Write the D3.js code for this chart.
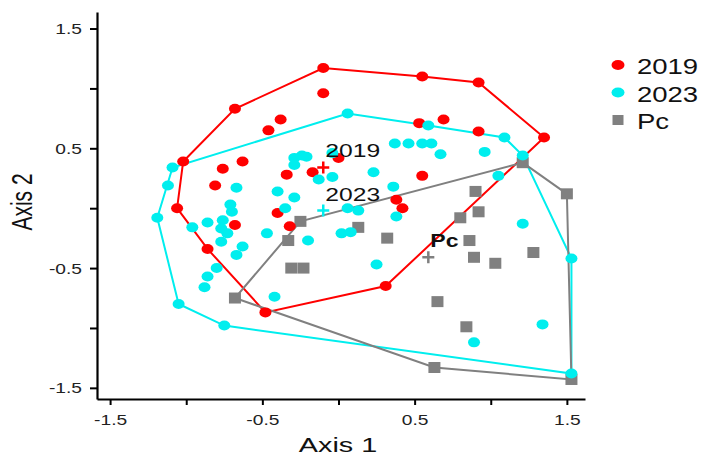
<!DOCTYPE html>
<html>
<head>
<meta charset="utf-8">
<script src="https://cdn.jsdelivr.net/npm/d3@7"></script>
<style>
body { margin: 0; background: #fff; }
text { font-family: Arial, "Liberation Sans", sans-serif; }
</style>
</head>
<body>
<script>
// ordination scores
var pts2019 = [[-0.10,1.17],[0.55,1.10],[0.92,1.05],[1.35,0.59],[0.31,-0.65],[-0.48,-0.87],
  [-0.86,-0.34],[-1.06,0.00],[-1.02,0.39],[-0.68,0.83],[-0.10,0.96],[-0.38,0.74],[-0.46,0.65],
  [-0.63,0.39],[-0.76,0.33],[-0.81,0.19],[-0.34,0.28],[-0.17,0.30],[0.00,0.42],[-0.40,-0.04],
  [-0.32,-0.15],[-0.68,-0.14],[0.53,0.71],[0.69,0.74],[0.92,0.64],[0.55,0.27],[0.38,0.07],[0.42,0.00]];
var pts2023 = [[0.06,0.79],[0.59,0.69],[1.09,0.59],[1.21,0.44],[1.53,-0.42],[1.53,-1.38],
  [-0.75,-0.98],[-1.05,-0.80],[-1.19,-0.08],[-1.09,0.34],[-1.12,0.19],[-0.67,0.17],[-0.71,0.03],
  [-0.70,-0.03],[-0.86,-0.12],[-0.96,-0.16],[-0.76,-0.10],[-0.77,-0.17],[-0.73,-0.21],[-0.77,-0.28],
  [-0.63,-0.32],[-0.67,-0.39],[-0.80,-0.50],[-0.86,-0.57],[-0.88,-0.66],[-0.29,0.42],[-0.24,0.44],
  [-0.21,0.43],[-0.29,0.36],[-0.04,0.46],[-0.13,0.24],[-0.04,0.26],[0.23,0.30],[-0.40,0.14],
  [-0.29,0.09],[-0.35,0.00],[0.37,0.54],[0.46,0.54],[0.55,0.54],[0.61,0.54],[0.67,0.45],[0.96,0.47],
  [1.05,0.27],[0.36,0.18],[0.38,-0.07],[0.06,0.00],[0.13,-0.02],[-0.47,-0.21],[-0.20,-0.27],
  [0.02,-0.21],[0.08,-0.20],[1.21,-0.13],[0.25,-0.47],[-0.42,-0.74],[1.34,-0.97],[0.89,-1.12]];
var ptsPc = [[-0.68,-0.75],[-0.25,-0.11],[1.21,0.38],[1.50,0.12],[1.53,-1.43],[0.63,-1.33],
  [-0.33,-0.27],[-0.31,-0.50],[-0.23,-0.50],[0.13,-0.16],[0.32,-0.25],[0.90,0.14],[0.92,-0.03],
  [0.80,-0.08],[0.86,-0.27],[0.89,-0.41],[1.03,-0.46],[1.28,-0.37],[0.65,-0.78],[0.84,-0.99]];
var groupNames = ["2019", "2023", "Pc"];
var centroids = [[-0.10,0.34],[-0.10,-0.02],[0.59,-0.41]];
var tickVals = [-1.5,-1,-0.5,0,0.5,1,1.5];
var tickLabels = ["-1.5","","-0.5","","0.5","","1.5"];

var colors = ["#ff0000", "#00eeee", "#808080"];
var groups = [pts2019, pts2023, ptsPc];
var sx = 1.37; // the source image is stretched horizontally

var svg = d3.select("body").append("svg").attr("width", 704).attr("height", 457);

var x = d3.scaleLinear().domain([-1.586, 1.619]).range([97, 585]);
var y = d3.scaleLinear().domain([-1.593, 1.638]).range([399, 12]);

// axes
var xAxis = svg.append("g").attr("transform", "translate(0,399)")
  .call(d3.axisBottom(x).tickValues(tickVals).tickSize(6).tickSizeOuter(0)
    .tickFormat(function(d, i) { return tickLabels[i]; }));
var yAxis = svg.append("g").attr("transform", "translate(97,0)")
  .call(d3.axisLeft(y).tickValues(tickVals).tickSize(7).tickSizeOuter(0)
    .tickFormat(function(d, i) { return tickLabels[i]; }));

[xAxis, yAxis].forEach(function(a) {
  a.select(".domain").attr("stroke", "#000").attr("stroke-width", 2.2);
  a.selectAll(".tick line").attr("stroke", "#000").attr("stroke-width", 2);
  a.selectAll("text").attr("font-size", 14).attr("fill", "#222")
    .attr("font-family", "Arial, 'Liberation Sans', sans-serif");
});
xAxis.selectAll("text").attr("y", 16).attr("transform", "scale(" + sx + ",1)");
yAxis.selectAll("text").attr("x", -15 / sx).attr("dy", "0.36em")
  .attr("transform", "scale(" + sx + ",1)");

// axis titles
svg.append("text").attr("transform", "translate(338,452) scale(" + sx + ",1)")
  .attr("text-anchor", "middle").attr("font-size", 21).attr("fill", "#111").text("Axis 1");
svg.append("text").attr("transform", "translate(32,202) scale(" + sx + ",1) rotate(-90)")
  .attr("text-anchor", "middle").attr("font-size", 21).attr("fill", "#111").text("Axis 2");

// convex hulls
groups.forEach(function(g, i) {
  var hull = d3.polygonHull(g.map(function(d) { return [x(d[0]), y(d[1])]; }));
  svg.append("path").attr("d", "M" + hull.join("L") + "Z")
    .attr("fill", "none").attr("stroke", colors[i]).attr("stroke-width", 2);
});

// points: Pc first, then 2019, then 2023 on top
[2, 0, 1].forEach(function(i) {
  var layer = svg.append("g");
  if (i === 2) {
    layer.selectAll("rect").data(groups[i]).enter().append("rect")
      .attr("x", function(d) { return x(d[0]) - 6; })
      .attr("y", function(d) { return y(d[1]) - 5.5; })
      .attr("width", 12).attr("height", 11).attr("fill", colors[i]);
  } else {
    layer.selectAll("ellipse").data(groups[i]).enter().append("ellipse")
      .attr("cx", function(d) { return x(d[0]); })
      .attr("cy", function(d) { return y(d[1]); })
      .attr("rx", 6).attr("ry", 5).attr("fill", colors[i]);
  }
});

// group centroids and labels
centroids.forEach(function(c, i) {
  var cx = x(c[0]), cy = y(c[1]);
  svg.append("path").attr("d", "M" + (cx - 6) + "," + cy + "H" + (cx + 6) + "M" + cx + "," + (cy - 6) + "V" + (cy + 6))
    .attr("stroke", colors[i]).attr("stroke-width", 2.5);
  svg.append("text").attr("transform", "translate(" + (cx + 2) + "," + (cy - 10) + ") scale(" + (i === 2 ? 1.28 : sx) + ",1)")
    .attr("font-size", 18).attr("font-weight", i === 2 ? "bold" : "normal").attr("fill", "#111")
    .text(groupNames[i]);
});

// legend
var legend = svg.append("g").attr("transform", "translate(618,65)");
groupNames.forEach(function(name, i) {
  var row = legend.append("g").attr("transform", "translate(0," + (i * 27.5) + ")");
  if (i === 2) {
    row.append("rect").attr("x", -5.5).attr("y", -5).attr("width", 11).attr("height", 10).attr("fill", colors[i]);
  } else {
    row.append("ellipse").attr("rx", 6.5).attr("ry", 5).attr("fill", colors[i]);
  }
  row.append("text").attr("transform", "translate(19,9) scale(1.25,1)")
    .attr("font-size", 22).attr("fill", "#111").text(name);
});
</script>
</body>
</html>
